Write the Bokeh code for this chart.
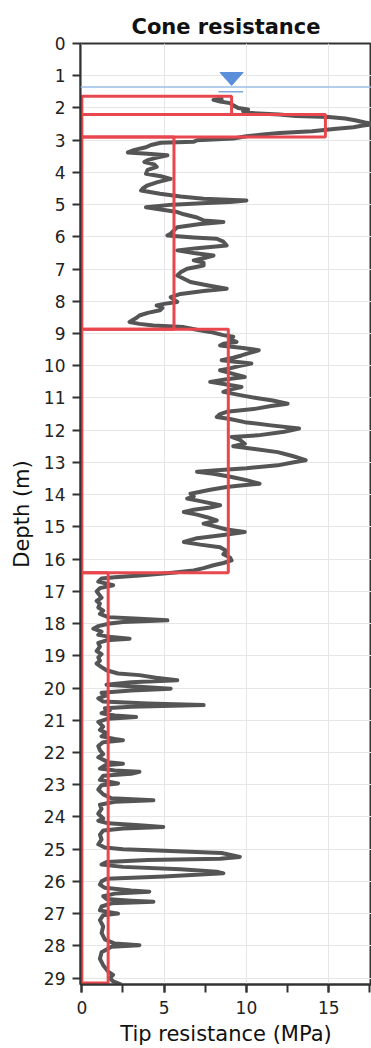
from bokeh.plotting import figure
from bokeh.models import ColumnDataSource, Range1d, SingleIntervalTicker, Span
from bokeh.embed import file_html
from bokeh.resources import INLINE

# ---- data ----
depth = [1.70, 1.75, 1.80, 1.85, 1.92, 2.00, 2.05, 2.10, 2.15, 2.20, 2.25, 2.28, 2.33, 2.38, 2.45, 2.50,
         2.55, 2.60, 2.65, 2.72, 2.78, 2.82, 2.88, 2.95, 3.00, 3.05, 3.08, 3.15, 3.22, 3.30, 3.38, 3.42,
         3.47, 3.55, 3.62, 3.68, 3.75, 3.83, 3.92, 4.04, 4.12, 4.20, 4.30, 4.40, 4.50, 4.56, 4.66, 4.75,
         4.82, 4.87, 4.92, 4.95, 5.00, 5.08, 5.15, 5.23, 5.30, 5.40, 5.49, 5.54, 5.60, 5.70, 5.80, 5.90,
         5.96, 6.02, 6.06, 6.15, 6.27, 6.35, 6.42, 6.50, 6.58, 6.65, 6.73, 6.80, 6.89, 6.99, 7.10, 7.20,
         7.30, 7.40, 7.50, 7.61, 7.68, 7.77, 7.87, 7.95, 8.02, 8.08, 8.13, 8.20, 8.28, 8.36, 8.44, 8.52,
         8.64, 8.70, 8.75, 8.80, 8.88, 8.95, 9.05, 9.10, 9.18, 9.26, 9.32, 9.37, 9.45, 9.52, 9.60, 9.68,
         9.75, 9.83, 9.93, 10.00, 10.08, 10.14, 10.25, 10.35, 10.42, 10.50, 10.58, 10.66, 10.74, 10.81,
         10.92, 11.00, 11.08, 11.18, 11.25, 11.33, 11.43, 11.50, 11.59, 11.65, 11.75, 11.85, 11.95, 12.05,
         12.16, 12.21, 12.30, 12.42, 12.50, 12.58, 12.68, 12.80, 12.93, 13.00, 13.09, 13.18, 13.25, 13.29,
         13.35, 13.45, 13.55, 13.66, 13.72, 13.76, 13.85, 13.97, 14.05, 14.12, 14.20, 14.33, 14.40, 14.47,
         14.54, 14.62, 14.70, 14.80, 14.90, 15.00, 15.08, 15.16, 15.25, 15.35, 15.47, 15.55, 15.63, 15.75,
         15.85, 15.95, 16.04, 16.12, 16.19, 16.28, 16.35, 16.42, 16.50, 16.56, 16.60,
         16.70, 16.81, 16.90, 17.00, 17.07, 17.20, 17.30, 17.38, 17.50, 17.60, 17.70, 17.80, 17.85, 17.90,
         17.95, 18.00, 18.08, 18.16, 18.25, 18.35, 18.42, 18.47, 18.52, 18.60, 18.72, 18.85, 18.95, 19.05,
         19.15, 19.24, 19.35, 19.45, 19.55, 19.60, 19.68, 19.76, 19.82, 19.90, 19.96, 20.02, 20.08, 20.15,
         20.23, 20.32, 20.42, 20.48, 20.53, 20.58, 20.63, 20.69, 20.78, 20.85, 20.90, 20.95, 21.05, 21.20,
         21.30, 21.40, 21.50, 21.58, 21.62, 21.68, 21.80, 21.93, 22.05, 22.15, 22.30, 22.35, 22.40, 22.50,
         22.56, 22.60, 22.66, 22.72, 22.85, 22.96, 23.02, 23.15, 23.30, 23.42, 23.48, 23.53, 23.62, 23.75,
         23.90, 24.05, 24.12, 24.20, 24.26, 24.31, 24.36, 24.42, 24.55, 24.70, 24.85, 24.95, 25.00, 25.05,
         25.12, 25.24, 25.30, 25.34, 25.40, 25.48, 25.55, 25.62, 25.70, 25.75, 25.85, 25.92, 26.00, 26.10,
         26.20, 26.28, 26.32, 26.38, 26.46, 26.55, 26.60, 26.63, 26.68, 26.78, 26.90, 27.00, 27.05, 27.20,
         27.40, 27.60, 27.80, 27.93, 27.98, 28.03, 28.20, 28.40, 28.60, 28.80, 28.90, 29.00, 29.10, 29.20]

qc = [8.6, 8.0, 8.4, 9.0, 9.2, 9.5, 10.1, 9.8, 10.0, 12.0, 13.0, 15.0, 16.0, 16.6, 17.2, 17.8,
      17.0, 16.5, 15.3, 14.0, 12.0, 11.0, 10.0, 9.2, 7.0, 6.8, 4.8, 4.2, 3.9, 3.2, 2.8, 4.0,
      5.2, 4.5, 4.0, 3.8, 4.4, 4.55, 4.0, 3.9, 4.8, 5.4, 4.6, 4.0, 3.7, 3.6, 4.75, 6.0,
      7.4, 10.0, 9.0, 7.6, 5.5, 3.9, 4.8, 5.8, 6.2, 7.0, 7.4, 8.6, 7.2, 5.8, 5.6, 5.4,
      5.2, 6.8, 8.2, 8.6, 8.8, 7.0, 5.8, 6.8, 8.0, 7.5, 6.8, 7.4, 7.4, 6.4, 6.0, 5.8,
      6.2, 6.6, 7.6, 8.8, 7.4, 6.0, 5.4, 5.6, 5.8, 5.0, 4.55, 4.9, 4.75, 4.0, 3.5, 3.3,
      2.9, 3.5, 4.35, 6.2, 7.0, 7.8, 8.6, 9.2, 9.0, 9.4, 8.6, 8.4, 9.8, 10.75, 10.2, 9.7,
      9.2, 8.5, 10.3, 9.6, 9.0, 8.4, 9.2, 9.9, 8.8, 7.8, 8.8, 9.7, 9.0, 8.6,
      9.7, 10.6, 11.6, 12.5, 11.5, 10.6, 8.8, 8.4, 8.2, 9.0, 9.9, 11.5, 13.2, 12.3,
      10.7, 9.1, 9.6, 9.9, 9.2, 10.5, 11.9, 12.8, 13.6, 12.8, 11.9, 10.0, 8.0, 7.0,
      8.0, 9.1, 10.0, 10.8, 9.5, 8.8, 7.8, 6.6, 6.8, 6.4, 7.2, 8.4, 7.8, 6.8,
      6.2, 7.0, 7.6, 8.2, 7.4, 8.2, 8.8, 9.9, 8.6, 7.0, 6.2, 7.2, 8.4, 8.8,
      8.6, 9.0, 9.1, 8.6, 8.0, 7.4, 6.8, 5.5, 3.7, 2.0, 1.2,
      1.0, 1.9, 1.1, 0.9, 1.0, 1.2, 0.9, 1.1, 1.0, 1.3, 1.1, 1.6, 3.5, 5.2,
      2.5, 1.7, 1.0, 0.7, 1.2, 1.0, 1.8, 2.9, 1.5, 1.0, 1.1, 0.9, 1.2, 1.0,
      1.1, 0.9, 1.2, 1.5, 2.2, 3.5, 4.5, 5.8, 3.0, 1.5, 3.5, 5.4, 3.0, 1.2,
      1.5, 1.0, 1.3, 4.0, 7.4, 3.0, 1.4, 1.7, 1.2, 2.0, 3.3, 1.6, 1.0, 1.3,
      1.1, 1.5, 1.2, 2.0, 2.5, 1.3, 1.0, 1.1, 1.3, 1.0, 1.6, 2.5, 1.4, 1.1,
      2.0, 3.5, 3.0, 1.3, 1.1, 2.2, 1.2, 1.0, 1.3, 1.8, 4.35, 2.0, 1.1, 1.2,
      1.0, 1.3, 1.0, 1.6, 3.5, 4.95, 2.5, 1.3, 1.1, 1.2, 1.0, 1.4, 2.5, 5.0,
      8.5, 9.6, 8.4, 4.0, 1.5, 1.2, 2.5, 6.0, 8.2, 8.6, 5.0, 1.5, 1.2, 1.1,
      1.4, 3.0, 4.1, 2.0, 1.3, 1.5, 3.0, 4.35, 1.8, 1.2, 1.1, 2.2, 1.3, 1.1,
      1.3, 1.2, 1.4, 2.0, 3.5, 1.8, 1.2, 1.1, 1.3, 1.6, 1.9, 1.7, 1.9, 2.4]

layer_top = [1.64, 2.20, 2.90, 8.87, 16.42]
layer_bottom = [2.20, 2.90, 8.87, 16.42, 29.15]
layer_qc = [9.1, 14.8, 5.6, 8.9, 1.6]

water_depth = 1.35
wt_symbol_x = 9.1
x_ticks_interval = 5
y_ticks_interval = 1

FONT = "DejaVu Sans"

p = figure(width=371, height=1048, output_backend="svg", toolbar_location=None,
           x_range=Range1d(-0.08, 17.6), y_range=Range1d(29.2, 0),
           min_border_left=80, min_border_right=0, min_border_top=43, min_border_bottom=63,
           title="Cone resistance")
p.background_fill_color = "white"
p.border_fill_color = "white"
p.outline_line_color = "#333333"
p.outline_line_width = 2

p.title.text_font = FONT
p.title.text_font_size = "21px"
p.title.text_font_style = "bold"
p.title.align = "center"
p.title.text_color = "#111111"

p.xaxis.ticker = SingleIntervalTicker(interval=x_ticks_interval, num_minor_ticks=2)
p.yaxis.ticker = SingleIntervalTicker(interval=y_ticks_interval, num_minor_ticks=0)

for ax in (p.xaxis[0], p.yaxis[0]):
    ax.axis_line_color = "#333333"
    ax.axis_line_width = 2
    ax.major_tick_line_color = "#333333"
    ax.major_tick_line_width = 2
    ax.major_tick_out = 8
    ax.major_tick_in = 0
    ax.major_label_text_font = FONT
    ax.major_label_text_font_size = "17px"
    ax.major_label_text_color = "#222222"
    ax.axis_label_text_font = FONT
    ax.axis_label_text_font_size = "21px"
    ax.axis_label_text_font_style = "normal"
    ax.axis_label_text_color = "#111111"

p.xaxis.minor_tick_line_color = "#333333"
p.xaxis.minor_tick_line_width = 2
p.xaxis.minor_tick_out = 8
p.xaxis.minor_tick_in = 0
p.yaxis.minor_tick_line_color = None
p.xaxis.major_label_standoff = 8
p.yaxis.major_label_standoff = 7
p.xaxis.axis_label = "Tip resistance (MPa)"
p.yaxis.axis_label = "Depth (m)"
p.xaxis.axis_label_standoff = 5
p.yaxis.axis_label_standoff = 7

p.xgrid.grid_line_color = "#e6e6e6"
p.ygrid.grid_line_color = "#e6e6e6"
p.xgrid.grid_line_width = 1
p.ygrid.grid_line_width = 1

# water table
p.add_layout(Span(location=water_depth, dimension="width", line_color="#9dbde6", line_width=1.5))
tri_half_w = 0.7
tri_h = 0.40
p.patch([wt_symbol_x - tri_half_w, wt_symbol_x + tri_half_w, wt_symbol_x],
        [water_depth - 0.05 - tri_h, water_depth - 0.05 - tri_h, water_depth - 0.05],
        fill_color="#5b8fd9", line_color="#5b8fd9", line_width=1)
p.segment(x0=[wt_symbol_x - 0.8], x1=[wt_symbol_x + 0.7],
          y0=[water_depth + 0.15], y1=[water_depth + 0.15], line_color="#7ea6db", line_width=1.5)

# cone resistance trace
src = ColumnDataSource(dict(depth=depth, qc=qc))
p.line("qc", "depth", source=src, line_color="#555555", line_width=4, line_join="round")

# layer averages
lsrc = ColumnDataSource(dict(top=layer_top, bottom=layer_bottom, right=layer_qc,
                             left=[0] * len(layer_qc)))
p.quad(left="left", right="right", top="top", bottom="bottom", source=lsrc,
       fill_alpha=0, line_color="#e8474e", line_width=3)

open("out.html", "w").write(file_html(p, INLINE))
